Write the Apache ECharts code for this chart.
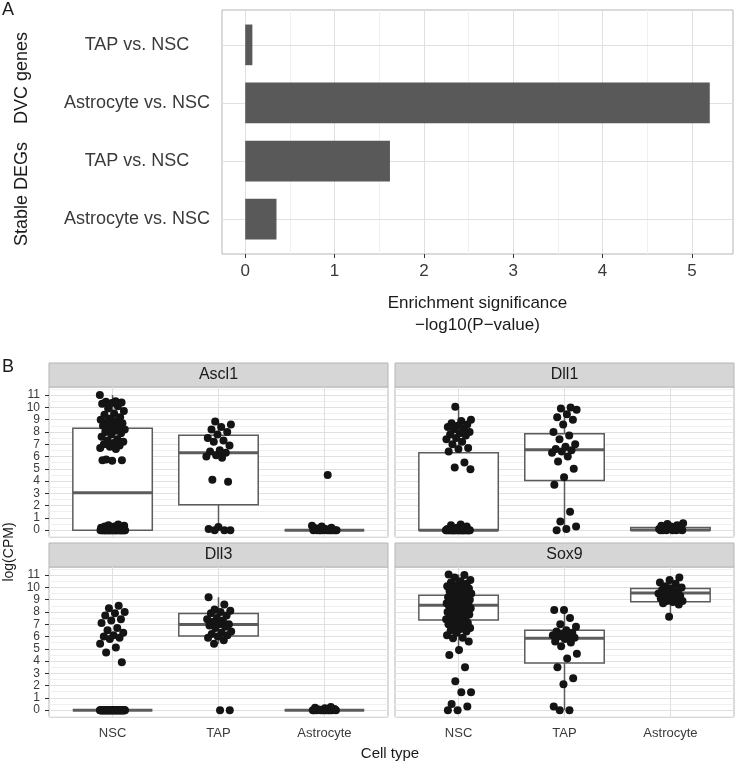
<!DOCTYPE html>
<html><head><meta charset="utf-8">
<script src="https://cdn.jsdelivr.net/npm/echarts@6/dist/echarts.min.js"></script>
<style>html,body{margin:0;padding:0;background:#fff}#c{width:735px;height:763px}</style>
</head><body><div id="c"></div>
<script>
// ---------- Panel A data ----------
const groupsA = ['DVC genes', 'DVC genes', 'Stable DEGs', 'Stable DEGs'];
const comparisonsA = ['TAP vs. NSC', 'Astrocyte vs. NSC', 'TAP vs. NSC', 'Astrocyte vs. NSC'];
const enrichment = [0.08, 5.2, 1.62, 0.35];
const enrichTicks = [0, 1, 2, 3, 4, 5];

// ---------- Panel B data ----------
const genes = ['Ascl1', 'Dll1', 'Dll3', 'Sox9'];
const cellTypes = ['NSC', 'TAP', 'Astrocyte'];
const logTicks = [0, 1, 2, 3, 4, 5, 6, 7, 8, 9, 10, 11];

const ascl1_NSC = [11.0,10.5,10.45,10.4,10.35,10.3,10.1,9.9,9.7,9.5,9.4,9.2,9.1,9.0,8.9,8.8,8.7,8.6,8.5,8.4,8.3,8.2,8.1,8.0,7.9,7.8,7.6,7.4,7.3,7.2,7.1,7.0,6.9,6.8,6.7,6.6,5.75,5.7,5.65,5.7,
  0.45,0.4,0.35,0.3,0.3,0.25,0.2,0.2,0.15,0.1,0.1,0.1,0.05,0.05,0,0,0,0,0,0,0,0,0,0,0,0,0,0,0,0,0,0,0,0,0,0,0,0,0,0];
const ascl1_TAP = [8.85,8.6,8.4,8.2,8.0,7.8,7.5,7.3,7.2,6.9,6.5,6.4,6.3,6.1,6.0,5.9,4.1,3.95,0.25,0.1,0,0,0];
const ascl1_Astro = [0,0,0,0,0,0,0,0,0,0,0,0.1,0.15,0.2,0.3,0.35,4.5];

const dll1_NSC = [10.05,9.0,8.9,8.7,8.6,8.5,8.4,8.3,8.2,8.0,7.9,7.8,7.7,7.5,7.4,7.2,7.0,6.7,6.6,6.4,5.5,5.1,4.95,
  0.45,0.4,0.3,0.2,0.1,0,0,0,0,0,0,0,0,0,0,0,0,0,0,0,0,0,0,0,0,0,0,0,0];
const dll1_TAP = [10.0,9.9,9.8,9.45,9.2,9.0,8.6,8.0,7.7,7.4,7.0,6.8,6.6,6.5,6.4,6.3,6.0,5.6,5.0,4.3,3.7,1.5,0.7,0.3,0.1,0.0];
const dll1_Astro = [0,0,0,0,0,0,0.05,0.1,0.1,0.15,0.2,0.25,0.3,0.35,0.4,0.5,0.55];

const dll3_NSC = [8.5,8.3,8.0,7.9,7.7,7.4,7.3,7.1,6.7,6.5,6.3,6.1,6.0,5.9,5.8,5.4,5.1,4.7,3.9,
  0,0,0,0,0,0,0,0,0,0,0,0,0,0,0,0,0,0,0,0,0,0,0,0,0,0,0,0,0,0,0,0,0,0,0,0,0,0,0,0,0,0,0,0,0,0,0,0,0,0,0,0,0,0,0];
const dll3_TAP = [9.2,8.6,8.2,8.1,8.0,7.9,7.7,7.5,7.4,7.3,7.2,7.0,7.0,6.9,6.8,6.7,6.4,6.3,6.2,6.1,6.0,5.9,5.7,5.4,0,0];
const dll3_Astro = [0,0,0,0,0,0,0,0,0,0,0,0.05,0.1,0.15,0.2,0.25];

const sox9_NSC = [11.05,11.0,10.8,10.6,10.5,10.4,10.3,10.2,10.1,10.0,10.0,9.9,9.8,9.7,9.6,9.5,9.5,9.4,9.4,9.3,9.2,9.2,9.1,9.0,9.0,8.9,8.9,8.8,8.8,8.7,8.7,8.6,8.6,8.5,8.5,8.4,8.4,8.3,8.2,8.2,8.1,8.0,8.0,7.9,7.8,7.8,7.7,7.6,7.5,7.5,7.4,7.3,7.2,7.1,7.0,7.0,6.9,6.8,6.7,6.6,6.5,6.4,6.3,6.1,5.9,5.85,5.6,4.9,4.5,3.5,2.35,1.45,1.45,0.5,0.3,0.0,0.0];
const sox9_TAP = [8.15,8.15,7.5,7.0,6.8,6.5,6.4,6.3,6.2,6.1,6.0,6.0,5.9,5.8,5.6,5.5,5.2,4.6,4.2,3.5,2.6,2.1,0.3,0,0];
const sox9_Astro = [10.8,10.6,10.4,10.3,10.1,10.0,9.9,9.8,9.7,9.6,9.5,9.5,9.4,9.3,9.2,9.1,9.0,8.9,8.9,8.8,8.7,8.6,7.6];

// box stats: [lower whisker, Q1, median, Q3, upper whisker] for NSC, TAP, Astrocyte
const ascl1_box = [[0,0,3.05,8.3,11.0],[0,2.06,6.3,7.72,8.85],[0,0,0,0,0]];
const dll1_box  = [[0,0,0,6.3,10.05],[0,4.05,6.55,7.85,10.0],[0,0,0.02,0.22,0.5]];
const dll3_box  = [[0,0,0,0,0],[5.4,6.04,6.98,7.88,9.2],[0,0,0,0,0]];
const sox9_box  = [[4.55,7.34,8.55,9.36,11.05],[0,3.83,5.85,6.5,8.15],[7.6,8.82,9.55,9.9,10.8]];

const points = [[ascl1_NSC, ascl1_TAP, ascl1_Astro],[dll1_NSC, dll1_TAP, dll1_Astro],[dll3_NSC, dll3_TAP, dll3_Astro],[sox9_NSC, sox9_TAP, sox9_Astro]];
const boxes = [ascl1_box, dll1_box, dll3_box, sox9_box];

// ---------- layout / style ----------
const FONT = 'Liberation Sans, Arial, Helvetica, sans-serif';
const TXT = '#3a3a3a';
const BORDER = '#b5b5b5';
const MAJOR = '#e0e0e0', MINOR = '#f0f0f0';
const facetLeft = [49, 395], facetTop = [387, 567], facetW = 339, facetH = 150, stripH = 24;

function jitter(i, c) { return (((i * 0.6180339887 + c * 0.37) % 1) - 0.5) * 0.24; }

function renderBar(params, api) {
  const v = api.value(0), y = api.value(1);
  const p0 = api.coord([0, y]), p1 = api.coord([v, y]);
  const h = Math.abs(api.size([0, 0.7])[1]);
  return { type: 'rect', shape: { x: p0[0], y: p0[1] - h / 2, width: p1[0] - p0[0], height: h }, style: { fill: '#595959' } };
}
function renderBox(params, api) {
  const x = api.value(0), lo = api.value(1), q1 = api.value(2), med = api.value(3), q3 = api.value(4), hi = api.value(5);
  const hw = 0.375, stroke = '#5c5c5c';
  const tl = api.coord([x - hw, q3]), br = api.coord([x + hw, q1]);
  const mL = api.coord([x - hw, med]), mR = api.coord([x + hw, med]);
  const pHi = api.coord([x, hi]), pQ3 = api.coord([x, q3]), pQ1 = api.coord([x, q1]), pLo = api.coord([x, lo]);
  return { type: 'group', children: [
    { type: 'line', shape: { x1: pHi[0], y1: pHi[1], x2: pQ3[0], y2: pQ3[1] }, style: { stroke, lineWidth: 1.5 } },
    { type: 'line', shape: { x1: pQ1[0], y1: pQ1[1], x2: pLo[0], y2: pLo[1] }, style: { stroke, lineWidth: 1.5 } },
    { type: 'rect', shape: { x: tl[0], y: tl[1], width: br[0] - tl[0], height: br[1] - tl[1] }, style: { fill: '#fff', stroke, lineWidth: 1.5 } },
    { type: 'line', shape: { x1: mL[0], y1: mL[1], x2: mR[0], y2: mR[1] }, style: { stroke, lineWidth: 3 } }
  ]};
}

const grids = [{ left: 222, top: 10, width: 511, height: 244, show: true, borderColor: BORDER, borderWidth: 1 }];
const xAxes = [{
  type: 'value', gridIndex: 0, min: -0.26, max: 5.46,
  axisLine: { show: false }, splitLine: { show: false },
  axisTick: { show: true, customValues: enrichTicks, length: 4, lineStyle: { color: '#333' } },
  axisLabel: { customValues: enrichTicks, fontSize: 17, color: TXT, margin: 9, fontFamily: FONT },
  name: 'Enrichment significance\n\u2212log10(P\u2212value)', nameLocation: 'middle', nameGap: 38,
  nameTextStyle: { fontSize: 17, color: '#1a1a1a', lineHeight: 22, fontFamily: FONT }
}];
const yAxes = [{
  type: 'value', gridIndex: 0, min: 0.4, max: 4.6, inverse: true,
  axisLine: { show: false }, splitLine: { show: false },
  axisTick: { show: true, customValues: [1, 2, 3, 4], length: 4, lineStyle: { color: '#333' } },
  axisLabel: { customValues: [1, 2, 3, 4], formatter: v => comparisonsA[v - 1], align: 'center', margin: 85, fontSize: 18, color: TXT, fontFamily: FONT }
}];
const series = [{
  type: 'custom', xAxisIndex: 0, yAxisIndex: 0, z: 2,
  renderItem: renderBar, encode: { x: 0, y: 1 },
  data: enrichment.map((v, i) => [v, i + 1]),
  markLine: {
    silent: true, symbol: ['none', 'none'], label: { show: false }, z: 1,
    lineStyle: { type: 'solid', width: 1 },
    data: [].concat(
      enrichTicks.slice(0, -1).map(v => ({ xAxis: v + 0.5, lineStyle: { color: MINOR, type: 'solid' } })),
      enrichTicks.map(v => ({ xAxis: v, lineStyle: { color: MAJOR, type: 'solid' } })),
      [1, 2, 3, 4].map(v => ({ yAxis: v, lineStyle: { color: MAJOR, type: 'solid' } }))
    )
  }
}];
function txt(text, size, x, y, rot, align) {
  const el = { type: 'text', x: x, y: y, style: { text: text, fontSize: size, fontFamily: FONT, fill: '#1a1a1a', align: align || 'center', verticalAlign: 'middle' } };
  if (rot) el.rotation = rot;
  return el;
}
const graphics = [
  txt('A', 18, 8, 10),
  txt('B', 18, 8, 367),
  txt('Cell type', 15, 390, 754),
  txt('log(CPM)', 14, 9, 552, Math.PI / 2)
];

genes.forEach((g, k) => {
  const row = Math.floor(k / 2), col = k % 2;
  const gi = k + 1;
  const L = facetLeft[col], T = facetTop[row];
  grids.push({ left: L, top: T, width: facetW, height: facetH, show: true, borderColor: BORDER, borderWidth: 1 });
  xAxes.push({
    type: 'value', gridIndex: gi, min: 0.4, max: 3.6,
    axisLine: { show: false }, splitLine: { show: false },
    axisTick: { show: row === 1, customValues: [1, 2, 3], length: 4, lineStyle: { color: '#333' } },
    axisLabel: { show: row === 1, customValues: [1, 2, 3], formatter: v => cellTypes[v - 1], fontSize: 13, color: TXT, margin: 10, fontFamily: FONT }
  });
  yAxes.push({
    type: 'value', gridIndex: gi, min: -0.56, max: 11.66,
    axisLine: { show: false }, splitLine: { show: false },
    axisTick: { show: col === 0, customValues: logTicks, length: 4, lineStyle: { color: '#333' } },
    axisLabel: { show: col === 0, customValues: logTicks, fontSize: 12, color: TXT, margin: 9, fontFamily: FONT }
  });
  series.push({
    type: 'custom', xAxisIndex: gi, yAxisIndex: gi, z: 2,
    renderItem: renderBox, encode: { x: 0, y: [1, 2, 3, 4, 5] },
    data: boxes[k].map((b, c) => [c + 1].concat(b))
  });
  const pts = [];
  points[k].forEach((arr, c) => arr.forEach((v, i) => pts.push([c + 1 + jitter(i, c + k), v])));
  series.push({
    type: 'scatter', xAxisIndex: gi, yAxisIndex: gi, z: 3,
    symbolSize: 8, itemStyle: { color: '#141414', opacity: 1 },
    data: pts,
    markLine: {
      silent: true, symbol: ['none', 'none'], label: { show: false }, z: 1,
      lineStyle: { type: 'solid', width: 1 },
      data: [].concat(
        logTicks.map(v => ({ yAxis: v - 0.5, lineStyle: { color: MINOR, type: 'solid' } })),
        [{ yAxis: 11.5, lineStyle: { color: MINOR, type: 'solid' } }],
        logTicks.map(v => ({ yAxis: v, lineStyle: { color: MAJOR, type: 'solid' } })),
        [1, 2, 3].map(v => ({ xAxis: v, lineStyle: { color: MAJOR, type: 'solid' } }))
      )
    }
  });
  graphics.push({ type: 'rect', shape: { x: L, y: T - stripH, width: facetW, height: stripH }, style: { fill: '#d6d6d6', stroke: BORDER, lineWidth: 1 } });
  graphics.push(txt(g, 16, L + facetW / 2, T - stripH / 2));
});

const chart = echarts.init(document.getElementById('c'), null, { renderer: 'canvas' });
chart.setOption({
  animation: false,
  backgroundColor: '#fff',
  textStyle: { fontFamily: FONT },
  grid: grids, xAxis: xAxes, yAxis: yAxes, series: series, graphic: graphics
});
// group labels for panel A, centred on their categories
const groupEls = ['DVC genes', 'Stable DEGs'].map(grp => {
  const idx = groupsA.map((g, i) => g === grp ? i + 1 : null).filter(v => v !== null);
  const mid = idx.reduce((a, b) => a + b, 0) / idx.length;
  const py = chart.convertToPixel({ gridIndex: 0 }, [0, mid])[1];
  return txt(grp, 18, 22, py + 4, Math.PI / 2);
});
chart.setOption({ graphic: graphics.concat(groupEls) }, { replaceMerge: ['graphic'] });
</script></body></html>
